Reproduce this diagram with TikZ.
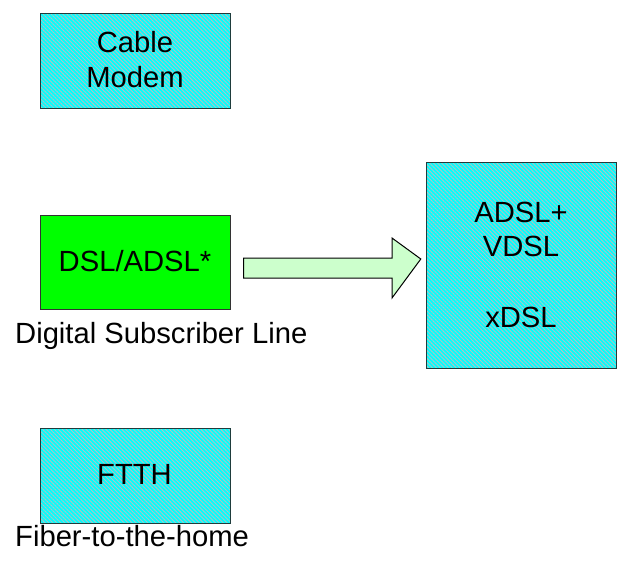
\documentclass[tikz,border=0pt]{standalone}
\usepackage{fontspec}
\setmainfont{Liberation Sans}
\usetikzlibrary{patterns.meta}
\definecolor{boxcyan}{HTML}{00FFFF}
\definecolor{hatchgray}{HTML}{B0C4C4}
\definecolor{boxgreen}{HTML}{00FF00}
\definecolor{arrowgreen}{HTML}{CCFFCC}
\definecolor{edgeteal}{HTML}{1E3C3C}
\definecolor{edgegray}{HTML}{333333}
\tikzset{
  techbox/.style={rectangle, inner sep=0pt, fill=boxcyan,
    postaction={pattern={Lines[angle=-45,distance=2.8pt,line width=0.9pt]},
                pattern color=hatchgray},
    postaction={draw=edgeteal, line width=1pt}},
  dslbox/.style={draw=edgegray, line width=1pt, rectangle, inner sep=0pt, fill=boxgreen},
  boxtext/.style={anchor=base, inner sep=0pt, font=\fontsize{29.2}{34}\selectfont},
  captext/.style={anchor=base west, inner sep=0pt, font=\fontsize{29.2}{34}\selectfont},
  blockarrow/.style={draw=black, line width=1pt, fill=arrowgreen, line join=miter}
}
\begin{document}
\begin{tikzpicture}[x=1pt,y=-1pt]
\useasboundingbox (0,0) rectangle (619,565);
% boxes
\node[techbox, minimum width=190pt, minimum height=95pt] (cable) at (135,60.5) {};
\node[dslbox, minimum width=190pt, minimum height=94pt] (dsl) at (135,262) {};
\node[techbox, minimum width=190pt, minimum height=206pt] (xdsl) at (521,265) {};
\node[techbox, minimum width=190pt, minimum height=95pt] (ftth) at (135,475.5) {};
% box texts
\node[boxtext] (cable1) at (135,52.5) {Cable};
\node[boxtext] (cable2) at (135,87.5) {Modem};
\node[boxtext] (dsltxt) at (135,271) {DSL/ADSL*};
\node[boxtext] (x1) at (521,222.5) {ADSL+};
\node[boxtext] (x2) at (521,256.5) {VDSL};
\node[boxtext] (x3) at (521,327.5) {xDSL};
\node[boxtext] (ftthtxt) at (134.5,484) {FTTH};
% captions
\node[captext] (dslcap) at (15,343) {Digital Subscriber Line};
\node[captext] (ftthcap) at (15,546) {Fiber-to-the-home};
% block arrow from the DSL box towards the xDSL box
\coordinate (tail) at ([xshift=13pt]dsl.east);
\coordinate (tip) at ([xshift=-5pt,yshift=6pt]xdsl.west);
\draw[blockarrow]
  (tail |- 0,258) -- (392,258) -- (392,238) -- (tip) -- (392,298) -- (392,278) -- (tail |- 0,278) -- cycle;
\end{tikzpicture}
\end{document}
